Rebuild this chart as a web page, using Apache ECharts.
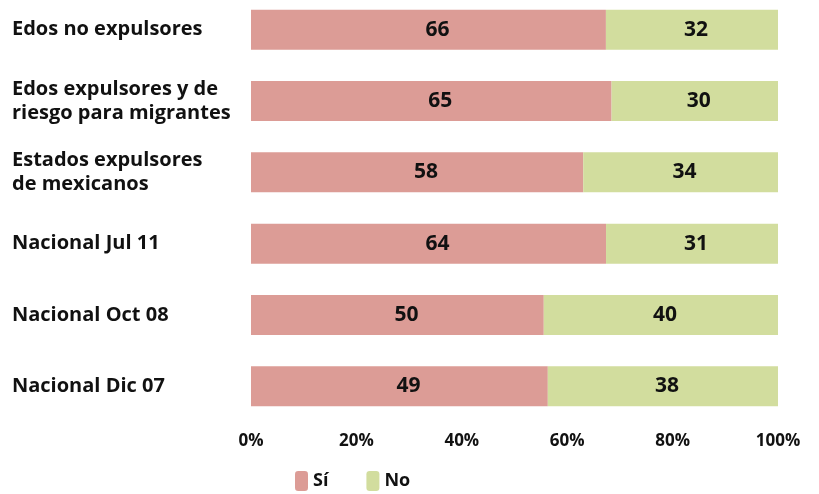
<!DOCTYPE html>
<html>
<head>
<meta charset="utf-8">
<script src="https://cdn.jsdelivr.net/npm/echarts@6/dist/echarts.min.js"></script>
<style>
  html, body { margin: 0; padding: 0; background: #fff; overflow: hidden; }
  /* shifted up a little so the first bar can sit closer to the top edge */
  #chart { width: 819px; height: 500px; margin-top: -6px; }
</style>
</head>
<body>
<div id="chart"></div>
<script>
// top to bottom as in the picture
const categories = [
  'Edos no expulsores',
  'Edos expulsores y de\nriesgo para migrantes',
  'Estados expulsores\nde mexicanos',
  'Nacional Jul 11',
  'Nacional Oct 08',
  'Nacional Dic 07'
]
const siValues = [66, 65, 58, 64, 50, 49]
const noValues = [32, 30, 34, 31, 40, 38]
const tickLabels = ['0%', '20%', '40%', '60%', '80%', '100%']

const font = '"Open Sans", Lato, sans-serif'

// 100% stacked: each bar is normalised to its own Sí + No total
function share(values, i) {
  const total = siValues[i] + noValues[i]
  return { value: values[i] / total * 100, raw: values[i] }
}

const chart = echarts.init(document.getElementById('chart'))

function barLabel(dx) {
  return {
    show: true,
    position: 'inside',
    offset: [dx, 0],
    formatter: (p) => p.data.raw,
    color: '#111',
    fontFamily: font,
    fontWeight: 'bold',
    fontSize: 21
  }
}

chart.setOption({
  animation: false,
  backgroundColor: '#fff',
  grid: { left: 251, right: 41, top: 0, bottom: 72 },
  legend: {
    left: 290,
    top: 472,
    itemWidth: 13,
    itemHeight: 20,
    itemGap: 38,
    textStyle: { fontFamily: font, fontWeight: 'bold', fontSize: 18, color: '#111' },
    data: ['Sí', 'No']
  },
  xAxis: {
    type: 'value',
    min: 0,
    max: 100,
    interval: 20,
    axisLine: { show: false },
    axisTick: { show: false },
    splitLine: { show: false },
    axisLabel: {
      margin: 11,
      color: '#111',
      fontFamily: font,
      fontWeight: 'bold',
      fontSize: 17,
      formatter: (v) => tickLabels[v / 20]
    }
  },
  yAxis: {
    type: 'category',
    inverse: true,
    data: categories,
    axisLine: { show: false },
    axisTick: { show: false },
    axisLabel: {
      align: 'left',
      margin: 239,
      color: '#111',
      fontFamily: font,
      fontWeight: 'bold',
      fontSize: 20,
      lineHeight: 24
    }
  },
  series: [
    {
      name: 'Sí',
      type: 'bar',
      stack: 'total',
      barCategoryGap: '44%',
      itemStyle: { color: '#dc9c96' },
      label: barLabel(9),
      data: siValues.map((_, i) => share(siValues, i))
    },
    {
      name: 'No',
      type: 'bar',
      stack: 'total',
      barCategoryGap: '44%',
      itemStyle: { color: '#d2dd9e' },
      label: barLabel(4),
      data: noValues.map((_, i) => share(noValues, i))
    }
  ]
})
</script>
</body>
</html>
